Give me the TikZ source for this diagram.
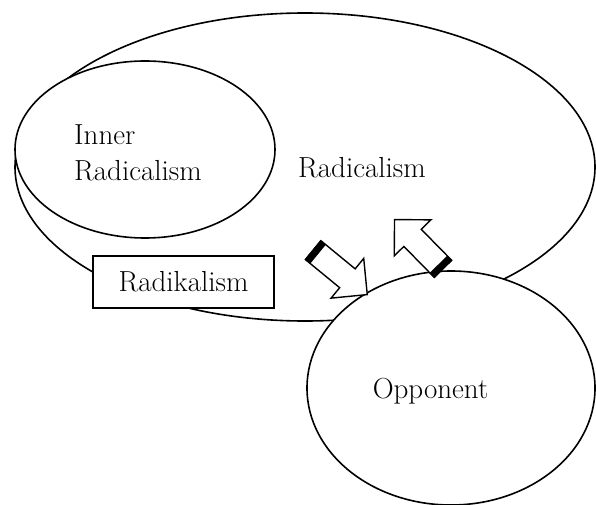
\documentclass[tikz,border=0pt]{standalone}
\usepackage{fontspec}
\usetikzlibrary{shapes.geometric,shapes.arrows,calc}
\begin{document}
\begin{tikzpicture}[x=1pt,y=-1pt,
  oval/.style={ellipse, draw=black, line width=1.6pt, fill=white, inner sep=0pt},
  lbl/.style={font=\fontsize{29}{36}\selectfont, inner sep=0pt},
  boxnode/.style={draw=black, line width=1.1pt, fill=white, minimum width=181pt, minimum height=52pt, inner sep=0pt, font=\fontsize{29}{36}\selectfont},
  blockarrow/.style={single arrow, draw=black, line width=1.4pt, fill=white, inner xsep=0pt, inner ysep=11.5pt,
    single arrow head extend=13.5pt, single arrow tip angle=90},
  stripe/.style={draw=black, line width=7pt, line cap=butt}
]
\useasboundingbox (0,0) rectangle (596,505);
% big ellipse
\node[oval, minimum width=580pt, minimum height=308pt] (big) at (305,167) {};
% inner ellipse
\node[oval, minimum width=260pt, minimum height=177pt] (inner) at (145,149.5) {};
% box
\node[boxnode] (box) at (183.5,282) {Radikalism};
% opponent
\node[oval, minimum width=288pt, minimum height=234pt] (opp) at (451,388) {};
% texts
\node[lbl, align=left, anchor=north west] (innertxt) at (74,124) {Inner\\Radicalism};
\node[lbl, anchor=base west] (bigtxt) at (298,177) {Radicalism};
\node[lbl, anchor=base] (opptxt) at (430.5,398) {Opponent};
% arrows
\node[blockarrow, minimum height=70pt, rotate=-39.4] (a1) at (335.5,268.5) {};
\node[blockarrow, minimum height=69pt, rotate=134.5] (a2) at (423,248.5) {};
\coordinate (s1) at ($(a1.tail)!3.5pt!(a1.tip)$);
\coordinate (s2) at ($(a2.tail)!3.5pt!(a2.tip)$);
\draw[stripe] ($(s1)!12.5pt!90:(a1.tip)$) -- ($(s1)!12.5pt!-90:(a1.tip)$);
\draw[stripe] ($(s2)!12.5pt!90:(a2.tip)$) -- ($(s2)!12.5pt!-90:(a2.tip)$);
\end{tikzpicture}
\end{document}
